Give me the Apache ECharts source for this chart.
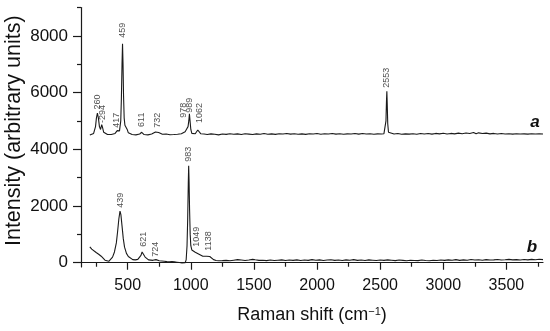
<!DOCTYPE html>
<html><head><meta charset="utf-8">
<script src="https://cdn.jsdelivr.net/npm/echarts@6/dist/echarts.min.js"></script>
<style>html,body{margin:0;padding:0;background:#fff}#c{width:550px;height:331px}</style>
</head><body><div id="c"></div>
<script>
// ---- data ----
const xMajorTicks = [500, 1000, 1500, 2000, 2500, 3000, 3500];
const xMinorTicks = [250, 750, 1250, 1750, 2250, 2750, 3250, 3750];
const yMajorTicks = [0, 2000, 4000, 6000, 8000];
const yMinorTicks = [1000, 3000, 5000, 7000, 9000];

// spectrum a: [Raman shift, intensity]
const spectrumA = [
 [200,4500],[215,4520],[230,4560],[245,4800],[252,5100],[260,5280],[268,5100],[276,4800],[285,4700],[294,4870],
 [300,4780],[310,4600],[325,4540],[340,4520],[355,4510],[370,4520],[385,4540],[400,4560],[410,4620],[417,4660],
 [425,4620],[435,4650],[445,5000],[450,5800],[455,7000],[459,7720],[463,7000],[467,5900],[472,5100],[478,4850],
 [485,4820],[490,4800],[496,4700],[505,4580],[520,4540],[535,4520],[550,4530],[565,4510],[580,4530],[595,4540],
 [605,4580],[611,4600],[618,4560],[630,4520],[645,4530],[660,4510],[675,4520],[690,4540],[705,4560],[720,4610],
 [732,4640],[745,4590],[760,4550],[775,4530],[790,4520],[805,4540],[820,4525],[835,4515],[850,4530],[865,4520],
 [880,4540],[895,4530],[910,4535],[925,4550],[940,4570],[955,4620],[965,4700],[972,4760],[978,4800],[984,5000],
 [989,5250],[994,5000],[1000,4700],[1008,4560],[1020,4540],[1035,4550],[1045,4580],[1055,4680],[1062,4750],[1068,4640],
 [1078,4550],[1090,4520],[1105,4540],[1130,4520],[1160,4545],[1190,4530],[1220,4510],[1250,4540],[1280,4525],[1310,4550],
 [1340,4530],[1370,4545],[1400,4520],[1430,4550],[1460,4535],[1490,4520],[1520,4545],[1550,4530],[1580,4555],[1610,4530],
 [1640,4545],[1670,4525],[1700,4550],[1730,4540],[1760,4560],[1790,4535],[1820,4550],[1850,4530],[1880,4545],[1910,4525],
 [1940,4550],[1970,4540],[2000,4555],[2030,4530],[2060,4550],[2090,4540],[2120,4560],[2150,4535],[2180,4550],[2210,4530],
 [2240,4545],[2270,4540],[2300,4560],[2330,4535],[2360,4555],[2390,4540],[2420,4550],[2450,4530],[2480,4545],[2510,4540],
 [2530,4550],[2540,4600],[2546,5000],[2550,5700],[2553,6050],[2556,5600],[2560,4900],[2566,4600],[2580,4550],[2610,4540],
 [2640,4555],[2670,4530],[2700,4545],[2730,4535],[2760,4550],[2790,4530],[2820,4560],[2850,4540],[2880,4555],[2910,4535],
 [2940,4560],[2970,4545],[3000,4565],[3030,4540],[3060,4560],[3090,4545],[3120,4570],[3150,4550],[3180,4575],[3210,4555],
 [3240,4590],[3260,4545],[3280,4580],[3310,4555],[3340,4570],[3370,4545],[3400,4560],[3430,4540],[3460,4555],[3490,4540],
 [3520,4550],[3550,4535],[3580,4550],[3610,4540],[3640,4545],[3670,4535],[3700,4550],[3730,4540],[3760,4545],[3790,4540]
];

// spectrum b: [Raman shift, intensity]
const spectrumB = [
 [200,560],[215,480],[230,420],[250,360],[270,300],[290,230],[305,160],[320,90],[335,40],[350,50],
 [365,100],[380,200],[395,380],[410,700],[420,1100],[430,1550],[439,1820],[446,1700],[455,1300],[465,850],
 [475,550],[490,330],[505,220],[520,150],[540,110],[560,100],[580,120],[595,170],[605,260],[614,380],
 [621,420],[628,340],[638,200],[650,130],[665,100],[680,90],[700,85],[715,95],[724,110],[735,90],
 [750,70],[770,60],[790,50],[810,40],[830,35],[850,40],[870,30],[890,20],[910,10],[930,-10],
 [945,-20],[955,0],[963,100],[970,600],[975,1500],[980,2800],[983,3420],[986,2900],[990,1900],[995,1000],
 [1000,600],[1008,450],[1020,400],[1035,370],[1049,350],[1065,300],[1080,260],[1095,230],[1110,210],[1125,230],
 [1138,240],[1150,220],[1165,160],[1180,110],[1200,80],[1220,70],[1250,75],[1280,85],[1310,70],[1340,90],
 [1370,110],[1385,130],[1400,95],[1430,80],[1460,95],[1490,120],[1510,105],[1540,85],[1570,90],[1600,75],
 [1630,95],[1660,80],[1690,90],[1720,100],[1750,80],[1780,95],[1810,85],[1840,100],[1870,80],[1900,95],
 [1930,85],[1960,110],[1990,90],[2020,100],[2050,80],[2080,95],[2110,105],[2140,85],[2170,95],[2200,80],
 [2230,100],[2260,90],[2290,110],[2320,85],[2350,95],[2380,80],[2410,100],[2440,90],[2470,80],[2500,95],
 [2530,85],[2560,100],[2590,90],[2620,75],[2650,95],[2680,85],[2710,70],[2740,90],[2770,80],[2800,75],
 [2830,95],[2860,80],[2890,70],[2920,90],[2950,80],[2980,95],[3010,85],[3040,100],[3070,90],[3100,110],
 [3130,85],[3160,100],[3190,90],[3220,115],[3250,95],[3280,105],[3310,90],[3340,110],[3370,95],[3400,100],
 [3430,115],[3460,95],[3490,105],[3520,120],[3550,100],[3580,110],[3610,95],[3640,115],[3670,100],[3700,120],
 [3730,105],[3760,125],[3790,110]
];

// peak annotations: [Raman shift, label baseline intensity, text]
const peakLabelsA = [
 [259,5400,'260'],[301,4930,'-294'],[415,4760,'417'],[459,7930,'459'],[612,4790,'611'],[736,4760,'732'],
 [945,5110,'978'],[989,5290,'989'],[1070,4930,'1062'],[2553,6170,'2553']
];
const peakLabelsB = [
 [445,1940,'439'],[627,565,'621'],[723,210,'724'],[983,3560,'983'],[1042,565,'1049'],[1140,425,'1138']
];
const curveTags = ['a', 'b'];

// ---- chart ----
const FONT = 'Liberation Sans, Arial, sans-serif';
const INK = '#1a1a1a';
const chart = echarts.init(document.getElementById('c'), null, {renderer: 'canvas'});

function labelSeries(data) {
  return {
    type: 'scatter', data: data, symbolSize: 0, silent: true, z: 5,
    xAxisIndex: 0, yAxisIndex: 0,
    label: {
      show: true, position: 'top', distance: 0, rotate: 90,
      align: 'left', verticalAlign: 'middle',
      fontFamily: FONT, fontSize: 9, color: '#222',
      formatter: p => p.data[2]
    }
  };
}

const plain = v => String(v);
const baseX = {type: 'value', min: 130, max: 3790, position: 'bottom', splitLine: {show: false}};
const baseY = {type: 'value', min: -150, max: 9000, position: 'left', splitLine: {show: false}};

chart.setOption({
  animation: false,
  backgroundColor: '#fff',
  grid: {left: 81, right: 7, top: 7.5, bottom: 64, containLabel: false, outerBoundsMode: 'none'},
  xAxis: [
    Object.assign({}, baseX, {
      axisLine: {show: true, lineStyle: {color: INK, width: 1.2}},
      axisTick: {show: true, customValues: xMajorTicks, length: 7, lineStyle: {color: INK, width: 1.2}},
      axisLabel: {customValues: xMajorTicks, formatter: plain, fontFamily: FONT, fontSize: 16, color: '#111', margin: 11},
      name: 'Raman shift (cm{s|\u22121})',
      nameLocation: 'middle', nameGap: 39,
      nameTextStyle: {fontFamily: FONT, fontSize: 18, color: '#111',
        rich: {s: {fontFamily: FONT, fontSize: 11, color: '#111', verticalAlign: 'top', padding: [0, 0, 8, 0]}}}
    }),
    Object.assign({}, baseX, {
      axisLine: {show: false},
      axisTick: {show: true, customValues: xMinorTicks, length: 4, lineStyle: {color: INK, width: 1.2}},
      axisLabel: {show: false}
    })
  ],
  yAxis: [
    Object.assign({}, baseY, {
      axisLine: {show: true, lineStyle: {color: INK, width: 1.2}},
      axisTick: {show: true, customValues: yMajorTicks, length: 8, lineStyle: {color: INK, width: 1.2}},
      axisLabel: {customValues: yMajorTicks, formatter: plain, fontFamily: FONT, fontSize: 17, color: '#111', margin: 13},
      name: 'Intensity (arbitrary units)',
      nameLocation: 'middle', nameGap: 56, nameRotate: 90, nameMoveOverlap: false,
      nameTextStyle: {fontFamily: FONT, fontSize: 21.5, color: '#111', padding: [0, 0, 0, 13]}
    }),
    Object.assign({}, baseY, {
      axisLine: {show: false},
      axisTick: {show: true, customValues: yMinorTicks, length: 4, lineStyle: {color: INK, width: 1.2}},
      axisLabel: {show: false}
    })
  ],
  series: [
    {type: 'line', data: spectrumA, showSymbol: false, symbol: 'none', xAxisIndex: 0, yAxisIndex: 0,
     lineStyle: {color: INK, width: 1.1}, silent: true},
    {type: 'line', data: spectrumB, showSymbol: false, symbol: 'none', xAxisIndex: 0, yAxisIndex: 0,
     lineStyle: {color: INK, width: 1.1}, silent: true},
    labelSeries(peakLabelsA),
    labelSeries(peakLabelsB)
  ],
  graphic: [
    {type: 'text', x: 535, y: 122, style: {text: curveTags[0], font: 'italic bold 17px ' + FONT, fill: '#111', textAlign: 'center', textVerticalAlign: 'middle'}},
    {type: 'text', x: 532, y: 247, style: {text: curveTags[1], font: 'italic bold 17px ' + FONT, fill: '#111', textAlign: 'center', textVerticalAlign: 'middle'}}
  ]
});
</script>
</body></html>
